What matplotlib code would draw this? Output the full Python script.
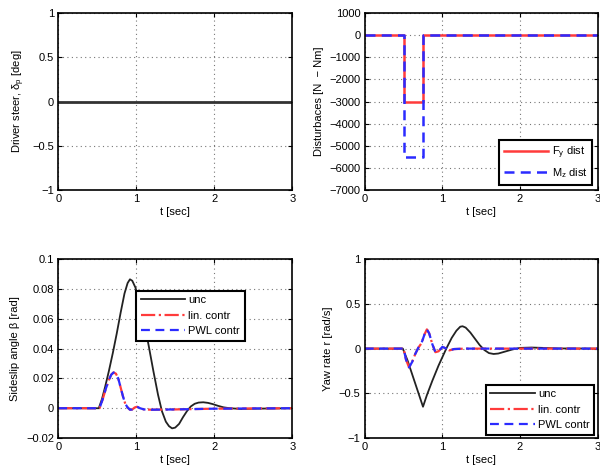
import matplotlib
matplotlib.use("Agg")
import matplotlib.pyplot as plt
import numpy as np

plt.rcParams['font.family'] = ['Liberation Sans', 'DejaVu Sans']
plt.rcParams['mathtext.fontset'] = 'custom'
plt.rcParams['mathtext.rm'] = 'Liberation Sans'
plt.rcParams['mathtext.it'] = 'Liberation Sans'
plt.rcParams['font.size'] = 8

# driver steer (constant zero)
steer_t = [0, 3]
steer_v = [0, 0]

# disturbances
dist_t = [0, 0.5, 0.5, 0.75, 0.75, 3]
fy_dist = [0, 0, -3000, -3000, 0, 0]
mz_dist = [0, 0, -5500, -5500, 0, 0]

# sideslip angle
beta_unc_t = [0, 0.52, 0.56, 0.6, 0.65, 0.7, 0.75, 0.8, 0.85, 0.89, 0.92, 0.95, 0.99, 1.04,
              1.1, 1.16, 1.22, 1.28, 1.33, 1.38, 1.42, 1.46, 1.5, 1.55, 1.6, 1.65, 1.7, 1.75,
              1.8, 1.86, 1.92, 1.98, 2.05, 2.12, 2.2, 2.35, 2.5, 3]
beta_unc = [0, 0, 0.006, 0.014, 0.025, 0.037, 0.05, 0.064, 0.077, 0.084, 0.0865, 0.0855,
            0.081, 0.072, 0.058, 0.042, 0.025, 0.009, -0.002, -0.009, -0.012, -0.0135, -0.013,
            -0.0105, -0.006, -0.002, 0.0012, 0.003, 0.0038, 0.004, 0.0036, 0.0028, 0.0016,
            0.0006, 0.0, -0.0005, -0.0003, 0]
beta_lin_t = [0, 0.53, 0.57, 0.61, 0.65, 0.68, 0.71, 0.74, 0.77, 0.8, 0.83, 0.86, 0.89, 0.92,
              0.95, 0.98, 1.01, 1.05, 1.1, 1.2, 1.5, 2.0, 3]
beta_lin = [0, 0, 0.006, 0.013, 0.019, 0.0225, 0.024, 0.0232, 0.02, 0.014, 0.008, 0.003,
            0.0005, -0.001, -0.0008, 0.0005, 0.001, 0.0, -0.0008, -0.001, -0.0008, -0.0003, 0]
beta_pwl = [0, 0, 0.006, 0.013, 0.019, 0.0225, 0.024, 0.0232, 0.02, 0.014, 0.008, 0.003,
            0.0005, -0.001, -0.0008, 0.0005, 0.001, 0.0, -0.0008, -0.001, -0.0008, -0.0003, 0]

# yaw rate
r_unc_t = [0, 0.49, 0.55, 0.6, 0.65, 0.7, 0.75, 0.8, 0.87, 0.95, 1.05, 1.12, 1.18, 1.23, 1.26,
           1.3, 1.36, 1.42, 1.48, 1.54, 1.6, 1.66, 1.72, 1.8, 1.9, 2.0, 2.15, 2.3, 2.5, 3]
r_unc = [0, 0, -0.13, -0.26, -0.39, -0.52, -0.65, -0.52, -0.36, -0.19, 0.0, 0.12, 0.2, 0.245,
         0.25, 0.235, 0.18, 0.11, 0.04, -0.015, -0.05, -0.06, -0.055, -0.035, -0.01, 0.008,
         0.012, 0.008, 0.002, 0]
r_lin_t = [0, 0.5, 0.53, 0.57, 0.61, 0.65, 0.69, 0.73, 0.77, 0.8, 0.83, 0.87, 0.91, 0.95, 1.0,
           1.05, 1.09, 1.15, 1.3, 3]
r_lin = [0, 0, -0.12, -0.21, -0.15, -0.06, 0.01, 0.06, 0.16, 0.215, 0.17, 0.05, -0.04, -0.03,
         0.02, 0.0, -0.02, -0.005, 0, 0]
r_pwl = [0, 0, -0.12, -0.21, -0.15, -0.06, 0.01, 0.06, 0.16, 0.215, 0.17, 0.05, -0.04, -0.03,
         0.02, 0.0, -0.02, -0.005, 0, 0]

RED = '#ff3b3b'
BLUE = '#2b2bff'
DASH = (0, (4, 2.5))

fig = plt.figure(figsize=(6.0, 4.67), dpi=100)
ax1 = fig.add_axes([0.097, 0.593, 0.39, 0.379])
ax2 = fig.add_axes([0.608, 0.593, 0.388, 0.379])
ax3 = fig.add_axes([0.097, 0.062, 0.39, 0.383])
ax4 = fig.add_axes([0.608, 0.062, 0.388, 0.383])


def style(ax):
    ax.grid(True, linestyle=(0, (1, 3)), color='#777777', linewidth=0.8)
    ax.tick_params(direction='in', length=3, width=0.8, top=True, right=True, pad=3)
    ax.set_xlim(0, 3)
    ax.set_xticks([0, 1, 2, 3])
    for s in ax.spines.values():
        s.set_linewidth(1.2)
    ax.set_xlabel('t [sec]', labelpad=2)


def box_legend(ax, **kw):
    leg = ax.legend(fancybox=False, edgecolor='black', framealpha=1, handlelength=4,
                    handletextpad=0.3, labelspacing=0.5, fontsize=8, **kw)
    leg.get_frame().set_linewidth(1.5)
    return leg


ax1.plot(steer_t, steer_v, color='#333333', linewidth=2)
ax1.set_ylim(-1, 1)
ax1.set_yticks([-1, -0.5, 0, 0.5, 1])
ax1.set_yticklabels(['\u22121', '\u22120.5', '0', '0.5', '1'])
ax1.set_ylabel('Driver steer, $\\delta_p$ [deg]')
style(ax1)

ax2.plot(dist_t, fy_dist, color=RED, linewidth=1.8, label='F$_y$ dist')
ax2.plot(dist_t, mz_dist, color=BLUE, linewidth=1.8, linestyle=DASH, label='M$_z$ dist')
ax2.set_ylim(-7000, 1000)
ax2.set_yticks(np.arange(-7000, 1001, 1000))
ax2.set_yticklabels([str(v).replace('-', '\u2212') for v in range(-7000, 1001, 1000)])
ax2.set_ylabel('Disturbaces [N  \u2212 Nm]')
style(ax2)
box_legend(ax2, loc='lower right', borderaxespad=0.5)

ax3.plot(beta_unc_t, beta_unc, color='#222222', linewidth=1.3, label='unc')
ax3.plot(beta_lin_t, beta_lin, color=RED, linewidth=1.6, linestyle='-.', label='lin. contr')
ax3.plot(beta_lin_t, beta_pwl, color=BLUE, linewidth=1.6, linestyle=DASH, label='PWL contr')
ax3.set_ylim(-0.02, 0.1)
ax3.set_yticks([-0.02, 0, 0.02, 0.04, 0.06, 0.08, 0.1])
ax3.set_yticklabels(['\u22120.02', '0', '0.02', '0.04', '0.06', '0.08', '0.1'])
ax3.set_ylabel('Sideslip angle \u03b2 [rad]')
style(ax3)
box_legend(ax3, loc='upper right', bbox_to_anchor=(0.82, 0.855))

ax4.plot(r_unc_t, r_unc, color='#222222', linewidth=1.3, label='unc')
ax4.plot(r_lin_t, r_lin, color=RED, linewidth=1.6, linestyle='-.', label='lin. contr')
ax4.plot(r_lin_t, r_pwl, color=BLUE, linewidth=1.6, linestyle=DASH, label='PWL contr')
ax4.set_ylim(-1, 1)
ax4.set_yticks([-1, -0.5, 0, 0.5, 1])
ax4.set_yticklabels(['\u22121', '\u22120.5', '0', '0.5', '1'])
ax4.set_ylabel('Yaw rate r [rad/s]')
style(ax4)
box_legend(ax4, loc='lower right', borderaxespad=0.3)

fig.savefig('out.png', dpi=100)
